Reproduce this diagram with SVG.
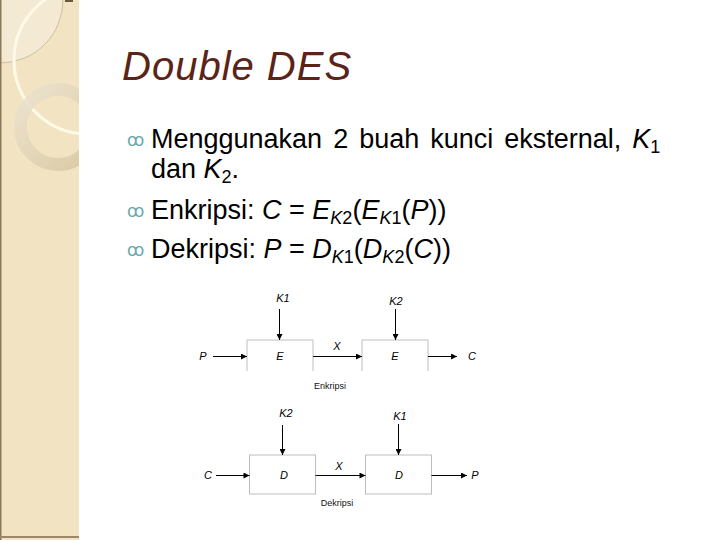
<svg xmlns="http://www.w3.org/2000/svg" width="720" height="540" viewBox="0 0 720 540">
<defs>
<style>
.body{font-family:"Liberation Sans",Arial,sans-serif;font-size:27px;fill:#000}
.it{font-style:italic}
.sub{font-size:18px}
.bul{font-family:"DejaVu Sans",sans-serif;font-size:17px;fill:#6AAAAD}
.lbl{font-family:"Liberation Sans",Arial,sans-serif;font-size:11px;font-style:italic;fill:#000;text-anchor:middle}
.cap{font-family:"Liberation Sans",Arial,sans-serif;font-size:9px;fill:#111;text-anchor:middle}
.box{fill:none;stroke:#BDBDBD;stroke-width:1}
.ln{stroke:#000;stroke-width:1;fill:none}
</style>
<marker id="ah" viewBox="0 0 10 10" refX="10" refY="5" markerWidth="9" markerHeight="6" markerUnits="userSpaceOnUse" orient="auto">
<path d="M0,0 L10,5 L0,10 z" fill="#000"/>
</marker>
<clipPath id="pc"><rect x="0" y="0" width="79" height="540"/></clipPath>
<linearGradient id="rg" x1="0" y1="0" x2="1" y2="1">
<stop offset="0" stop-color="#EBE3D0"/>
<stop offset="1" stop-color="#D6C59F"/>
</linearGradient>
</defs>
<rect width="720" height="540" fill="#fff"/>
<g id="panel">
<rect x="0" y="0" width="79" height="540" fill="#F2E4C3"/>
<g clip-path="url(#pc)">
<circle cx="0" cy="0" r="63" fill="#F4EAD4" stroke="#C4B392" stroke-width="0.8"/>
<circle cx="88" cy="60" r="74" fill="none" stroke="#FFF9E8" stroke-width="3"/>
<circle cx="58" cy="127" r="37.5" fill="none" stroke="url(#rg)" stroke-width="13" opacity="0.85"/>
</g>
<rect x="0" y="0" width="1.5" height="540" fill="#8A7858"/>
<rect x="0" y="536" width="79" height="2" fill="#9A8866"/>
<rect x="65" y="0" width="8" height="2" fill="#6B5A40"/>
</g>
<g id="title">
<text x="122" y="80" font-family="Liberation Sans, Arial, sans-serif" font-size="40" font-style="italic" fill="#5A2418" letter-spacing="1">Double DES</text>
</g>
<g id="bullets">
<text class="bul" x="127" y="146">ꝏ</text>
<text class="body" x="151" y="148" word-spacing="3.5">Menggunakan 2 buah kunci eksternal, <tspan class="it">K</tspan><tspan class="sub" dy="5">1</tspan></text>
<text class="body" x="151" y="178">dan <tspan class="it">K</tspan><tspan class="sub" dy="5">2</tspan><tspan dy="-5">.</tspan></text>
<text class="bul" x="127" y="217">ꝏ</text>
<text class="body" x="151" y="219">Enkripsi: <tspan class="it">C</tspan> = <tspan class="it">E</tspan><tspan class="sub" dy="5"><tspan class="it">K</tspan>2</tspan><tspan dy="-5">(</tspan><tspan class="it">E</tspan><tspan class="sub" dy="5"><tspan class="it">K</tspan>1</tspan><tspan dy="-5">(</tspan><tspan class="it">P</tspan>))</text>
<text class="bul" x="127" y="256">ꝏ</text>
<text class="body" x="151" y="258">Dekripsi: <tspan class="it">P</tspan> = <tspan class="it">D</tspan><tspan class="sub" dy="5"><tspan class="it">K</tspan>1</tspan><tspan dy="-5">(</tspan><tspan class="it">D</tspan><tspan class="sub" dy="5"><tspan class="it">K</tspan>2</tspan><tspan dy="-5">(</tspan><tspan class="it">C</tspan>))</text>
</g>
<g id="enc-box1">
<path class="box" d="M247,371 V340 H313 V371"/>
<text class="lbl" x="280" y="360">E</text>
</g>
<g id="enc-box2">
<path class="box" d="M362,371 V340 H428 V371"/>
<text class="lbl" x="395" y="360">E</text>
</g>
<g id="dec-box1">
<rect class="box" x="249.5" y="455" width="66" height="39"/>
<text class="lbl" x="284" y="479">D</text>
</g>
<g id="dec-box2">
<rect class="box" x="365.5" y="455" width="66" height="39"/>
<text class="lbl" x="399" y="479">D</text>
</g>
<g id="labels">
<text class="lbl" x="283" y="302">K1</text>
<text class="lbl" x="396" y="305">K2</text>
<text class="lbl" x="203" y="360">P</text>
<text class="lbl" x="337" y="350">X</text>
<text class="lbl" x="472" y="360">C</text>
<text class="cap" x="330" y="389">Enkripsi</text>
<text class="lbl" x="286" y="417">K2</text>
<text class="lbl" x="400" y="420">K1</text>
<text class="lbl" x="208" y="479">C</text>
<text class="lbl" x="339" y="470">X</text>
<text class="lbl" x="475" y="479">P</text>
<text class="cap" x="337" y="506">Dekripsi</text>
</g>
<g id="connectors">
<line class="ln" x1="279.5" y1="309" x2="279.5" y2="340" marker-end="url(#ah)"/>
<line class="ln" x1="395.5" y1="309" x2="395.5" y2="340" marker-end="url(#ah)"/>
<line class="ln" x1="213" y1="356.5" x2="247" y2="356.5" marker-end="url(#ah)"/>
<line class="ln" x1="313" y1="356.5" x2="362" y2="356.5" marker-end="url(#ah)"/>
<line class="ln" x1="428" y1="356.5" x2="457" y2="356.5" marker-end="url(#ah)"/>
<line class="ln" x1="282.5" y1="425" x2="282.5" y2="455" marker-end="url(#ah)"/>
<line class="ln" x1="398.5" y1="424" x2="398.5" y2="455" marker-end="url(#ah)"/>
<line class="ln" x1="216" y1="475.5" x2="249.5" y2="475.5" marker-end="url(#ah)"/>
<line class="ln" x1="315.5" y1="475.5" x2="365.5" y2="475.5" marker-end="url(#ah)"/>
<line class="ln" x1="431.5" y1="475.5" x2="467" y2="475.5" marker-end="url(#ah)"/>
</g>
</svg>
